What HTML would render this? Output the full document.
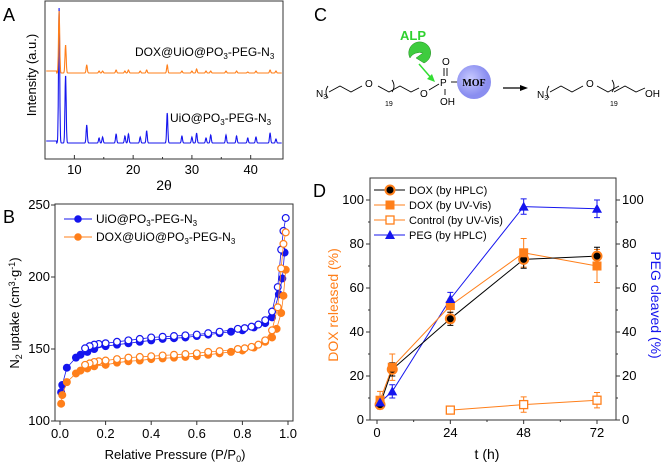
<!DOCTYPE html>
<html><head><meta charset="utf-8"><style>
body{margin:0;background:#fff;width:666px;height:465px;overflow:hidden}
svg{font-family:"Liberation Sans",sans-serif}
</style></head><body>
<svg id="s" width="666" height="465" viewBox="0 0 666 465">
<g font-size="18" fill="#000">
<text x="3" y="21">A</text>
<text x="3" y="223">B</text>
<text x="314" y="21">C</text>
<text x="313" y="197">D</text>
</g>
<g id="A"></g>
<g id="B"></g>
<g id="C">
<text x="400" y="40" font-size="13" font-weight="bold" fill="#2fd12f">ALP</text>
<path d="M410,58 A11,11 0 1 1 424,63 L416,58 L423,53 A11,11 0 0 0 410,58Z" fill="#3ecc3e" stroke="#228b22" stroke-width="0.5"/>
<line x1="419" y1="64" x2="432" y2="79" stroke="#33dd33" stroke-width="1.5"/>
<path d="M435,82 L427,79 L432,74Z" fill="#33dd33"/>
<text x="316" y="97" font-size="10">N<tspan font-size="7" dy="2">3</tspan></text>
<path d="M328,86 q-4,6 0,12 M329,92 L340,86 L351,92 L362,86 M378,86 L389,92 L400,86 L411,92 L419,88 M392,80 q4,6 0,12" stroke="#000" fill="none" stroke-width="0.9"/>
<text x="365" y="87" font-size="10">O</text>
<text x="385" y="106" font-size="7">19</text>
<text x="420" y="97" font-size="10">O</text>
<line x1="429" y1="90" x2="439" y2="84" stroke="#000" stroke-width="0.9"/>
<text x="440" y="86" font-size="10">P</text>
<text x="442" y="65" font-size="10">O</text>
<line x1="444" y1="68" x2="444" y2="76" stroke="#000" stroke-width="0.9"/><line x1="447" y1="68" x2="447" y2="76" stroke="#000" stroke-width="0.9"/>
<line x1="445" y1="89" x2="445" y2="95" stroke="#000" stroke-width="0.9"/>
<text x="440" y="105" font-size="10">OH</text>
<line x1="451" y1="82" x2="458" y2="82" stroke="#000" stroke-width="0.9"/>
<defs><radialGradient id="g" cx="0.4" cy="0.4"><stop offset="0" stop-color="#c8caff"/><stop offset="1" stop-color="#8a8ef0"/></radialGradient></defs>
<circle cx="474" cy="82" r="17" fill="url(#g)"/>
<text x="474" y="86" font-size="10" font-weight="bold" text-anchor="middle" font-family="Liberation Serif,serif">MOF</text>
<line x1="503" y1="88" x2="522" y2="88" stroke="#000" stroke-width="1.2"/><path d="M528,88 L520,85 L520,91Z"/>
<text x="537" y="98" font-size="10">N<tspan font-size="7" dy="2">3</tspan></text>
<path d="M549,86 q-4,6 0,12 M550,92 L561,86 L572,92 L583,86 M597,86 L608,92 L619,86 M612,80 q4,6 0,12 M614,92 L625,86 L636,92 L645,88" stroke="#000" fill="none" stroke-width="0.9"/>
<text x="586" y="87" font-size="10">O</text>
<text x="610" y="106" font-size="7">19</text>
<text x="645" y="97" font-size="10">OH</text>
</g>
<g id="D"></g>
</svg>
<script>
const NS="http://www.w3.org/2000/svg";
function mk(p,t,a,txt){const e=document.createElementNS(NS,t);for(const k in a)e.setAttribute(k,a[k]);if(txt!==undefined)e.textContent=txt;p.appendChild(e);return e;}
// ---- Panel A data ----
const xrdPeaks=[7.4,8.5,12.1,14.2,14.8,17.1,18.6,19.2,21.2,22.3,25.8,28.3,30.0,30.8,32.4,33.2,35.8,37.6,39.5,40.9,43.3,44.3];
const xrdBlue=[135,68,18,5,6,9,7,9,6,12,30,7,6,10,5,8,8,7,5,6,10,4];
const xrdOrange=[62,28,8,2,2,3,2,3,2,3,8,2,2,4,2,2,2,2,1,2,3,2];
const xrdTicks=[10,20,30,40];
(function(){
 const g=document.getElementById('A');
 const L=45,R=283,T=1,Bt=159;
 const X=v=>L+(v-5)/(45.5-5)*(R-L);
 mk(g,'rect',{x:L,y:T,width:R-L,height:Bt-T,fill:'none',stroke:'#333','stroke-width':1});
 xrdTicks.forEach(t=>{mk(g,'line',{x1:X(t),x2:X(t),y1:Bt,y2:Bt-4,stroke:'#333'});const e=mk(g,'text',{x:X(t),y:Bt+15,'font-size':13,'text-anchor':'middle'},t);});
 [15,25,35].forEach(t=>mk(g,'line',{x1:X(t),x2:X(t),y1:Bt,y2:Bt-2,stroke:'#333'}));
 const tt=mk(g,'text',{x:L+(R-L)/2,y:190,'font-size':14,'text-anchor':'middle'},'2θ');
 const yt=mk(g,'text',{x:0,y:0,'font-size':13,'text-anchor':'middle',transform:'translate(36,75) rotate(-90)'},'Intensity (a.u.)');
 function trace(base,h,col,name){let d='';for(let x=5.2;x<=45.3;x+=0.04){let y=0;xrdPeaks.forEach((p,i)=>{y+=h[i]*Math.exp(-Math.pow((x-p)/0.14,2));});y+=(x<7?2:0);d+=(d?'L':'M')+X(x).toFixed(1)+','+(base-y).toFixed(1);}const e=mk(g,'path',{d,fill:'none',stroke:col,'stroke-width':1.1});}
 trace(143,xrdBlue,'#1515ee','xrd-uio-trace');trace(73,xrdOrange,'#ff7f1a','xrd-dox-trace');
 const a=mk(g,'text',{x:135,y:56,'font-size':12},'');a.innerHTML='DOX@UiO@PO<tspan font-size="8" dy="3">3</tspan><tspan dy="-3">-PEG-N</tspan><tspan font-size="8" dy="3">3</tspan>';
 const b=mk(g,'text',{x:170,y:122,'font-size':12},'');b.innerHTML='UiO@PO<tspan font-size="8" dy="3">3</tspan><tspan dy="-3">-PEG-N</tspan><tspan font-size="8" dy="3">3</tspan>';
})();
// ---- Panel B data ----
const blueAdsP=[0.005,0.01,0.03,0.07,0.09,0.12,0.15,0.2,0.25,0.3,0.35,0.4,0.45,0.5,0.55,0.6,0.65,0.7,0.75,0.8,0.85,0.9,0.93,0.96,0.975,0.985];
const blueAdsV=[120,125,137,144,146,148,150,152,153,154,155,156,157,157.5,158,159,160,161,162,163,165,168,172,188,199,217];
const blueDesP=[0.99,0.98,0.97,0.955,0.93,0.9,0.87,0.84,0.81,0.78,0.7,0.65,0.6,0.55,0.5,0.45,0.4,0.35,0.3,0.25,0.2,0.17,0.15,0.13,0.11];
const blueDesV=[241,232,219,193,176,170,167,165.5,164.5,164,162,161,160,159.5,159,158.5,158,157,156,155,154,153.5,153,152,150.5];
const orAdsP=[0.005,0.01,0.03,0.07,0.09,0.12,0.15,0.2,0.25,0.3,0.35,0.4,0.45,0.5,0.55,0.6,0.65,0.7,0.75,0.8,0.85,0.9,0.93,0.95,0.97,0.98,0.99];
const orAdsV=[112,118,127,133,135,136.5,138,139,140.5,141.5,142,143,143.5,144,144.5,145,146,147,148,149,151,155,158,164,175,187,205];
const orDesP=[0.99,0.98,0.97,0.955,0.93,0.9,0.87,0.84,0.81,0.78,0.7,0.65,0.6,0.55,0.5,0.45,0.4,0.35,0.3,0.25,0.2,0.17,0.15,0.13,0.11];
const orDesV=[231,223,206,179,163,156,153,151.5,150.5,150,148.5,148,147,146.5,146,145.5,145,144.5,144,143,142,141.5,141,140,139];
const bYTicks=[100,150,200,250];
const bXTicks=[0,0.2,0.4,0.6,0.8,1.0];
(function(){
 const g=document.getElementById('B');
 const L=55,R=293,T=204,Bt=421;
 const X=v=>60+v*(288-60), Y=v=>421-(v-100)*(421-277)/100;
 mk(g,'rect',{x:L,y:T,width:R-L,height:Bt-T,fill:'none',stroke:'#333','stroke-width':1});
 bYTicks.forEach(t=>{mk(g,'line',{x1:L,x2:L-4,y1:Y(t),y2:Y(t),stroke:'#333'});const e=mk(g,'text',{x:L-5,y:Y(t)+4,'font-size':13,'text-anchor':'end'},t);});
 bXTicks.forEach(t=>{mk(g,'line',{x1:X(t),x2:X(t),y1:Bt,y2:Bt+4,stroke:'#333'});const e=mk(g,'text',{x:X(t),y:Bt+17,'font-size':13,'text-anchor':'middle'},t.toFixed(1));});
 const xt=mk(g,'text',{x:175,y:459,'font-size':13,'text-anchor':'middle'},'');xt.innerHTML='Relative Pressure (P/P<tspan font-size="9" dy="3">0</tspan><tspan dy="-3">)</tspan>';
 const yt=mk(g,'text',{x:0,y:0,'font-size':13,'text-anchor':'middle',transform:'translate(19,313) rotate(-90)'},'');yt.innerHTML='N<tspan font-size="9" dy="3">2</tspan><tspan dy="-3"> uptake (cm</tspan><tspan font-size="9" dy="-4">3</tspan><tspan dy="4">·g</tspan><tspan font-size="9" dy="-4">-1</tspan><tspan dy="4">)</tspan>';
 function ser(P,V,col,fill,name){mk(g,'polyline',{points:P.map((p,i)=>X(p)+','+Y(V[i])).join(' '),fill:'none',stroke:col,'stroke-width':0.8});P.forEach((p,i)=>{const c=mk(g,'circle',{cx:X(p),cy:Y(V[i]),r:3.4,fill:fill?col:'#fff',stroke:col,'stroke-width':1.2});});}
 ser(blueAdsP,blueAdsV,'#1515ee',true,'uio-adsorption-point');ser(blueDesP,blueDesV,'#1515ee',false,'uio-desorption-point');
 ser(orAdsP,orAdsV,'#ff7f1a',true,'dox-adsorption-point');ser(orDesP,orDesV,'#ff7f1a',false,'dox-desorption-point');
 [['#1515ee',219,'UiO@PO'],['#ff7f1a',237,'DOX@UiO@PO']].forEach(([c,y,t],i)=>{const lg=mk(g,'g',{});mk(lg,'line',{x1:64,x2:92,y1:y,y2:y,stroke:c});mk(lg,'circle',{cx:78,cy:y,r:3.8,fill:c});const e=mk(lg,'text',{x:96,y:y+4,'font-size':12},'');e.innerHTML=t+'<tspan font-size="8" dy="3">3</tspan><tspan dy="-3">-PEG-N</tspan><tspan font-size="8" dy="3">3</tspan>';});
})();
// ---- Panel D data ----
const tHours=[1,5,24,48,72];
const doxHplc=[7,23,46,73,74.5];
const doxHplcErr=[2,3,3,4,4];
const doxUv=[9,24,52,76,70];
const doxUvErr=[4,6,3,6.5,7.5];
const ctrlHours=[24,48,72];
const ctrlUv=[4.5,7,9];
const ctrlErr=[1.5,3.5,3.5];
const pegVals=[8,13,55,97,96];
const pegErr=[2,3,3,3.5,4];
const dTicks=[0,20,40,60,80,100];
const tTicks=[0,24,48,72];
(function(){
 const g=document.getElementById('D');
 const L=370,R=616,T=178,Bt=420;
 const X=v=>377+v*(597-377)/72, Y=v=>420-v*2.2;
 mk(g,'rect',{x:L,y:T,width:R-L,height:Bt-T,fill:'none',stroke:'#333','stroke-width':1});
 dTicks.forEach(t=>{mk(g,'line',{x1:L,x2:L-4,y1:Y(t),y2:Y(t),stroke:'#333'});mk(g,'line',{x1:R,x2:R+4,y1:Y(t),y2:Y(t),stroke:'#333'});
  const a=mk(g,'text',{x:L-6,y:Y(t)+4,'font-size':13,'text-anchor':'end'},t);
  const b=mk(g,'text',{x:R+6,y:Y(t)+4,'font-size':13},t);});
 [10,30,50,70,90].forEach(t=>{mk(g,'line',{x1:L,x2:L-2,y1:Y(t),y2:Y(t),stroke:'#333'});mk(g,'line',{x1:R,x2:R+2,y1:Y(t),y2:Y(t),stroke:'#333'});});
 tTicks.forEach(t=>{mk(g,'line',{x1:X(t),x2:X(t),y1:Bt,y2:Bt+4,stroke:'#333'});const e=mk(g,'text',{x:X(t),y:Bt+17,'font-size':13,'text-anchor':'middle'},t);});
 [12,36,60].forEach(t=>mk(g,'line',{x1:X(t),x2:X(t),y1:Bt,y2:Bt+2,stroke:'#333'}));
 const xt=mk(g,'text',{x:487,y:459,'font-size':14,'text-anchor':'middle'},'t (h)');
 const yl=mk(g,'text',{x:0,y:0,'font-size':14,fill:'#ff7f1a','text-anchor':'middle',transform:'translate(338,305) rotate(-90)'},'DOX released (%)');
 const yr=mk(g,'text',{x:0,y:0,'font-size':14,fill:'#1515ee','text-anchor':'middle',transform:'translate(651,305) rotate(90)'},'PEG cleaved (%)');
 function err(xs,v,e,col){xs.forEach((x,i)=>{const cx=X(x);mk(g,'path',{d:`M${cx},${Y(v[i]-e[i])}V${Y(v[i]+e[i])}M${cx-3},${Y(v[i]-e[i])}h6M${cx-3},${Y(v[i]+e[i])}h6`,stroke:col,fill:'none','stroke-width':1});});}
 function line(xs,v,col){mk(g,'polyline',{points:xs.map((x,i)=>X(x)+','+Y(v[i])).join(' '),fill:'none',stroke:col,'stroke-width':1});}
 line(tHours,pegVals,'#1515ee');line(tHours,doxUv,'#ff7f1a');line(tHours,doxHplc,'#000');line(ctrlHours,ctrlUv,'#ff7f1a');
 err(tHours,pegVals,pegErr,'#1515ee');err(tHours,doxUv,doxUvErr,'#ff7f1a');err(tHours,doxHplc,doxHplcErr,'#000');err(ctrlHours,ctrlUv,ctrlErr,'#ff7f1a');
 tHours.forEach((x,i)=>{const c=mk(g,'circle',{cx:X(x),cy:Y(doxHplc[i]),r:4.5,fill:'#000',stroke:'#ff7f1a','stroke-width':2});});
 tHours.forEach((x,i)=>{const c=mk(g,'rect',{x:X(x)-4.5,y:Y(doxUv[i])-4.5,width:9,height:9,fill:'#ff7f1a'});});
 ctrlHours.forEach((x,i)=>{const c=mk(g,'rect',{x:X(x)-4,y:Y(ctrlUv[i])-4,width:8,height:8,fill:'#fff',stroke:'#ff7f1a','stroke-width':1.3});});
 tHours.forEach((x,i)=>{const cx=X(x),cy=Y(pegVals[i]);const c=mk(g,'path',{d:`M${cx},${cy-5}L${cx+5},${cy+4}L${cx-5},${cy+4}Z`,fill:'#1515ee'});});
 const leg=[['DOX (by HPLC)','#000','c'],['DOX (by UV-Vis)','#ff7f1a','s'],['Control (by UV-Vis)','#ff7f1a','o'],['PEG (by HPLC)','#1515ee','t']];
 leg.forEach(([t,c,m],i)=>{const y=190+i*15;const lg=mk(g,'g',{});
  mk(lg,'line',{x1:374,x2:405,y1:y,y2:y,stroke:m==='c'?'#000':c});
  if(m==='c')mk(lg,'circle',{cx:390,cy:y,r:4.5,fill:'#000',stroke:'#ff7f1a','stroke-width':2});
  if(m==='s')mk(lg,'rect',{x:385.5,y:y-4.5,width:9,height:9,fill:c});
  if(m==='o')mk(lg,'rect',{x:386,y:y-4,width:8,height:8,fill:'#fff',stroke:c,'stroke-width':1.3});
  if(m==='t')mk(lg,'path',{d:`M390,${y-5}L395,${y+4}L385,${y+4}Z`,fill:c});
  mk(lg,'text',{x:409,y:y+4,'font-size':11},t);});
})();
</script>
</body></html>
